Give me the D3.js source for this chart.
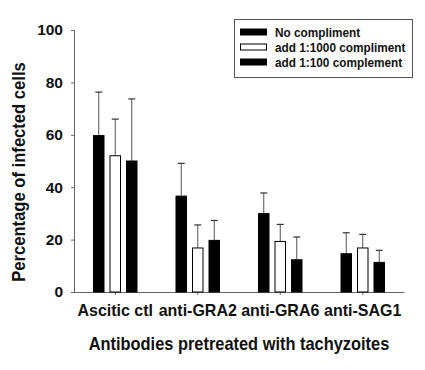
<!DOCTYPE html>
<html>
<head>
<meta charset="utf-8">
<script src="https://cdn.jsdelivr.net/npm/d3@7"></script>
<style>
  body { margin: 0; background: #fff; }
  text { font-family: "Liberation Sans", Arial, sans-serif; font-weight: bold; fill: #111; }
</style>
</head>
<body>
<script>
var categories = ["Ascitic ctl", "anti-GRA2", "anti-GRA6", "anti-SAG1"];
var seriesNames = ["No compliment", "add 1:1000 compliment", "add 1:100 complement"];
var noCompl = [59.7, 36.6, 29.9, 14.6];
var add1000 = [52, 16.8, 19.3, 16.8];
var add100 = [50, 19.7, 12.3, 11.3];
var errNo = [16.6, 12.5, 7.9, 8.0];
var err1000 = [14, 8.8, 6.5, 5.2];
var err100 = [23.7, 7.6, 8.7, 4.6];
var yTicks = [0, 20, 40, 60, 80, 100];

var w = 425;
var h = 370;

var series = [
  { name: seriesNames[0], values: noCompl, err: errNo, fill: "#000" },
  { name: seriesNames[1], values: add1000, err: err1000, fill: "#fff" },
  { name: seriesNames[2], values: add100, err: err100, fill: "#000" }
];

// the scanned lettering is taller than it is wide: keep width of the
// base size, draw glyphs at the bigger size
function condense(sel, baseSize, bigSize) {
  sel.each(function () {
    var t = d3.select(this);
    t.style("font-size", baseSize + "px");
    var len = this.getComputedTextLength();
    t.style("font-size", bigSize + "px")
      .attr("textLength", len)
      .attr("lengthAdjust", "spacingAndGlyphs");
  });
}

var svg = d3.select("body")
  .append("svg")
  .attr("width", w)
  .attr("height", h);

var xScale = d3.scaleBand()
  .domain(categories)
  .range([74, 404]);

var yScale = d3.scaleLinear()
  .domain([0, 100])
  .range([292, 30]);

var barW = 10.5;
var step = 16.5;

// axes
var yAxis = svg.append("g")
  .attr("transform", "translate(74,0)")
  .call(d3.axisLeft(yScale).tickValues(yTicks).tickSize(3).tickPadding(8));
yAxis.select(".domain").attr("stroke", "#666");
yAxis.selectAll(".tick line").attr("stroke", "#666");
yAxis.selectAll(".tick text")
  .style("font-family", "'Liberation Sans', Arial, sans-serif")
  .style("font-weight", "bold")
  .attr("fill", "#111")
  .call(condense, 15.5, 15.5);

var xAxis = svg.append("g")
  .attr("transform", "translate(0,292)")
  .call(d3.axisBottom(xScale).tickSize(3).tickSizeOuter(0).tickPadding(9));
xAxis.select(".domain").attr("stroke", "#666");
xAxis.selectAll(".tick line").attr("stroke", "#666");
xAxis.selectAll(".tick text")
  .style("font-family", "'Liberation Sans', Arial, sans-serif")
  .style("font-weight", "bold")
  .attr("fill", "#111")
  .call(condense, 16, 17);

// bars + error bars
series.forEach(function (s, i) {
  var g = svg.append("g");
  var cx = function (d, j) {
    return xScale(categories[j]) + xScale.bandwidth() / 2 + (i - 1) * step;
  };

  g.selectAll("line.err")
    .data(s.values)
    .enter()
    .append("line")
    .attr("class", "err")
    .attr("x1", cx)
    .attr("x2", cx)
    .attr("y1", function (d) { return yScale(d); })
    .attr("y2", function (d, j) { return yScale(d + s.err[j]); })
    .attr("stroke", "#555")
    .attr("stroke-width", 1);

  g.selectAll("line.cap")
    .data(s.values)
    .enter()
    .append("line")
    .attr("class", "cap")
    .attr("x1", function (d, j) { return cx(d, j) - 3.5; })
    .attr("x2", function (d, j) { return cx(d, j) + 3.5; })
    .attr("y1", function (d, j) { return yScale(d + s.err[j]); })
    .attr("y2", function (d, j) { return yScale(d + s.err[j]); })
    .attr("stroke", "#333")
    .attr("stroke-width", 1.2);

  g.selectAll("rect")
    .data(s.values)
    .enter()
    .append("rect")
    .attr("x", function (d, j) { return cx(d, j) - barW / 2; })
    .attr("y", function (d) { return yScale(d); })
    .attr("width", barW)
    .attr("height", function (d) { return yScale(0) - yScale(d); })
    .attr("fill", s.fill)
    .attr("stroke", "#000")
    .attr("stroke-width", 1);
});

// axis titles
svg.append("text")
  .attr("transform", "translate(25,172) rotate(-90)")
  .attr("text-anchor", "middle")
  .text("Percentage of infected cells")
  .call(condense, 16.6, 18);

svg.append("text")
  .attr("x", 239)
  .attr("y", 350)
  .attr("text-anchor", "middle")
  .text("Antibodies pretreated with tachyzoites")
  .call(condense, 16.4, 18.5);

// legend
var legend = svg.append("g");
legend.append("rect")
  .attr("x", 234.5)
  .attr("y", 19.5)
  .attr("width", 178)
  .attr("height", 58)
  .attr("fill", "#fff")
  .attr("stroke", "#555")
  .attr("stroke-width", 1);

var rowY = d3.scalePoint()
  .domain(seriesNames)
  .range([32, 62]);

series.forEach(function (s) {
  legend.append("rect")
    .attr("x", 240.5)
    .attr("y", rowY(s.name) - 3)
    .attr("width", 26)
    .attr("height", 6)
    .attr("fill", s.fill)
    .attr("stroke", "#000")
    .attr("stroke-width", 1);
  legend.append("text")
    .attr("x", 275)
    .attr("y", rowY(s.name) + 4.5)
    .text(s.name)
    .call(condense, 11.8, 12.5);
});
</script>
</body>
</html>
